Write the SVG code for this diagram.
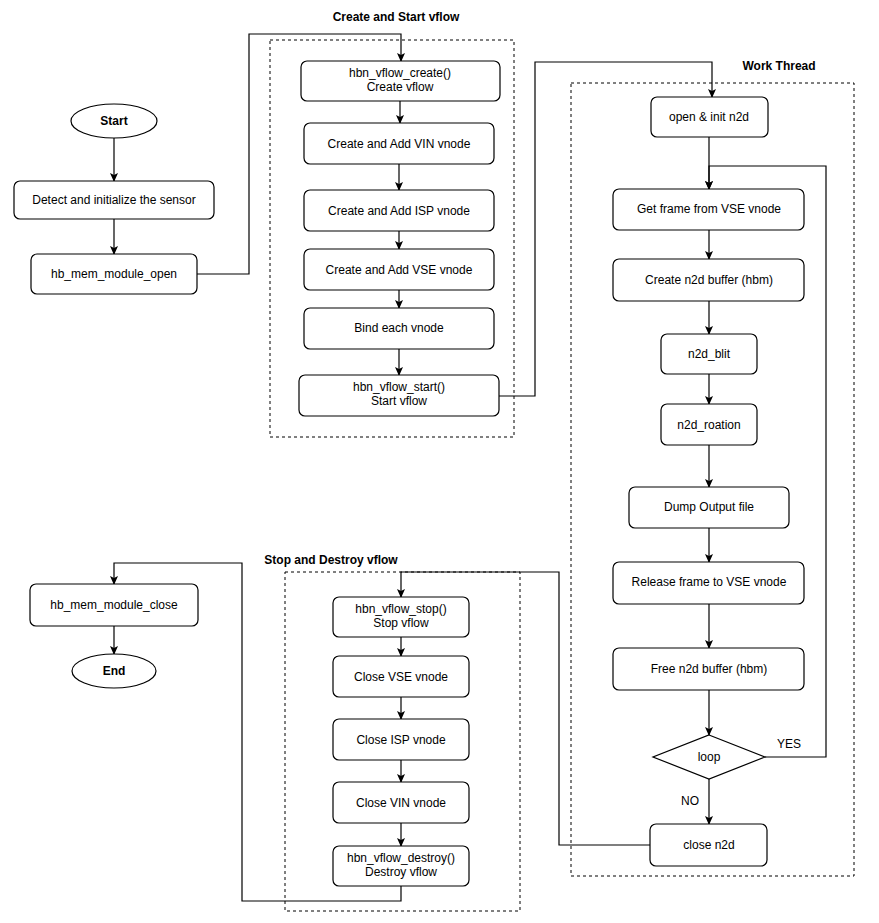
<svg xmlns="http://www.w3.org/2000/svg" width="879" height="923" viewBox="0 0 879 923">
<style>
.n{fill:#fff;stroke:#000;stroke-width:1.2}
.t{font-family:"Liberation Sans",Arial,sans-serif;font-size:12px;fill:#000;text-anchor:middle}
.b{font-weight:bold}
.g{fill:none;stroke:#000;stroke-width:1;stroke-dasharray:3 3}
.c{fill:none;stroke:#000;stroke-width:1.2}
</style>
<defs><marker id="a" markerWidth="10" markerHeight="10" refX="8" refY="5" orient="auto" markerUnits="userSpaceOnUse"><path d="M0,1 L9,5 L0,9 L2,5 z" fill="#000"/></marker></defs>
<rect x="0" y="0" width="879" height="923" fill="#fff"/>
<g id="groups">
<rect class="g" x="270" y="40" width="244" height="397"/>
<text class="t b" x="396" y="21">Create and Start vflow</text>
<rect class="g" x="571" y="83" width="283" height="793"/>
<text class="t b" x="779" y="70">Work Thread</text>
<rect class="g" x="285" y="572" width="235" height="339"/>
<text class="t b" x="331" y="564">Stop and Destroy vflow</text>
</g>
<g id="connectors">
<path class="c" marker-end="url(#a)" d="M114,138 V181"/>
<path class="c" marker-end="url(#a)" d="M114,219 V254"/>
<path class="c" marker-end="url(#a)" d="M197,274 H249 V34 H401 V61"/>
<path class="c" marker-end="url(#a)" d="M400,101 V123"/>
<path class="c" marker-end="url(#a)" d="M399,164 V190"/>
<path class="c" marker-end="url(#a)" d="M399,231 V249"/>
<path class="c" marker-end="url(#a)" d="M399,290 V308"/>
<path class="c" marker-end="url(#a)" d="M399,349 V375"/>
<path class="c" marker-end="url(#a)" d="M499,396 H535 V62 H712 V97"/>
<path class="c" marker-end="url(#a)" d="M709,137 V189"/>
<path class="c" marker-end="url(#a)" d="M765,757 H826 V166 H709 V189"/>
<path class="c" marker-end="url(#a)" d="M709,230 V259"/>
<path class="c" marker-end="url(#a)" d="M709,301 V334"/>
<path class="c" marker-end="url(#a)" d="M709,374 V404"/>
<path class="c" marker-end="url(#a)" d="M709,445 V487"/>
<path class="c" marker-end="url(#a)" d="M709,528 V562"/>
<path class="c" marker-end="url(#a)" d="M709,604 V648"/>
<path class="c" marker-end="url(#a)" d="M709,690 V735"/>
<path class="c" marker-end="url(#a)" d="M709,779 V824"/>
<text class="t" x="690" y="805">NO</text>
<text class="t" x="789" y="748">YES</text>
<path class="c" marker-end="url(#a)" d="M650,845 H559 V572 H401 V597"/>
<path class="c" marker-end="url(#a)" d="M401,637 V656"/>
<path class="c" marker-end="url(#a)" d="M401,697 V719"/>
<path class="c" marker-end="url(#a)" d="M401,760 V782"/>
<path class="c" marker-end="url(#a)" d="M401,823 V846"/>
<path class="c" marker-end="url(#a)" d="M401,886 V901 H242 V563 H114 V584"/>
<path class="c" marker-end="url(#a)" d="M114,626 V654"/>
</g>
<g id="start"><ellipse class="n" cx="114" cy="121" rx="43" ry="17"/><text class="t b" x="114" y="125">Start</text></g>
<g id="detect"><rect class="n" x="14" y="181" width="200" height="38" rx="6"/><text class="t" x="114" y="204">Detect and initialize the sensor</text></g>
<g id="memopen"><rect class="n" x="31" y="254" width="166" height="40" rx="6"/><text class="t" x="114" y="278">hb_mem_module_open</text></g>
<g id="vcreate"><rect class="n" x="301" y="61" width="199" height="40" rx="6"/><text class="t" x="400" y="77">hbn_vflow_create()</text><text class="t" x="400" y="91">Create vflow</text></g>
<g id="vin"><rect class="n" x="304" y="123" width="190" height="41" rx="6"/><text class="t" x="399" y="148">Create and Add VIN vnode</text></g>
<g id="isp"><rect class="n" x="304" y="190" width="190" height="41" rx="6"/><text class="t" x="399" y="215">Create and Add ISP vnode</text></g>
<g id="vse"><rect class="n" x="304" y="249" width="190" height="41" rx="6"/><text class="t" x="399" y="274">Create and Add VSE vnode</text></g>
<g id="bind"><rect class="n" x="304" y="308" width="190" height="41" rx="6"/><text class="t" x="399" y="332">Bind each vnode</text></g>
<g id="vstart"><rect class="n" x="299" y="375" width="200" height="41" rx="6"/><text class="t" x="399" y="391">hbn_vflow_start()</text><text class="t" x="399" y="405">Start vflow</text></g>
<g id="open"><rect class="n" x="651" y="97" width="117" height="40" rx="6"/><text class="t" x="709" y="121">open &amp; init n2d</text></g>
<g id="getframe"><rect class="n" x="613" y="189" width="191" height="41" rx="6"/><text class="t" x="709" y="213">Get frame from VSE vnode</text></g>
<g id="createbuf"><rect class="n" x="613" y="259" width="191" height="42" rx="6"/><text class="t" x="709" y="284">Create n2d buffer (hbm)</text></g>
<g id="blit"><rect class="n" x="661" y="334" width="96" height="40" rx="6"/><text class="t" x="709" y="358">n2d_blit</text></g>
<g id="rot"><rect class="n" x="661" y="404" width="96" height="41" rx="6"/><text class="t" x="709" y="429">n2d_roation</text></g>
<g id="dump"><rect class="n" x="629" y="487" width="160" height="41" rx="6"/><text class="t" x="709" y="511">Dump Output file</text></g>
<g id="release"><rect class="n" x="613" y="562" width="191" height="42" rx="6"/><text class="t" x="709" y="586">Release frame to VSE vnode</text></g>
<g id="free"><rect class="n" x="613" y="648" width="191" height="42" rx="6"/><text class="t" x="709" y="673">Free n2d buffer (hbm)</text></g>
<g id="loop"><path class="n" d="M709,735 L765,757 L709,779 L653,757 Z"/><text class="t" x="709" y="761">loop</text></g>
<g id="close"><rect class="n" x="650" y="824" width="117" height="42" rx="6"/><text class="t" x="709" y="849">close n2d</text></g>
<g id="vstop"><rect class="n" x="333" y="597" width="136" height="40" rx="6"/><text class="t" x="401" y="613">hbn_vflow_stop()</text><text class="t" x="401" y="627">Stop vflow</text></g>
<g id="cvse"><rect class="n" x="333" y="656" width="136" height="41" rx="6"/><text class="t" x="401" y="681">Close VSE vnode</text></g>
<g id="cisp"><rect class="n" x="333" y="719" width="136" height="41" rx="6"/><text class="t" x="401" y="744">Close ISP vnode</text></g>
<g id="cvin"><rect class="n" x="333" y="782" width="136" height="41" rx="6"/><text class="t" x="401" y="807">Close VIN vnode</text></g>
<g id="vdestroy"><rect class="n" x="333" y="846" width="136" height="40" rx="6"/><text class="t" x="401" y="862">hbn_vflow_destroy()</text><text class="t" x="401" y="876">Destroy vflow</text></g>
<g id="memclose"><rect class="n" x="30" y="584" width="168" height="42" rx="6"/><text class="t" x="114" y="609">hb_mem_module_close</text></g>
<g id="end"><ellipse class="n" cx="114" cy="671" rx="42" ry="17"/><text class="t b" x="114" y="675">End</text></g>
</svg>
